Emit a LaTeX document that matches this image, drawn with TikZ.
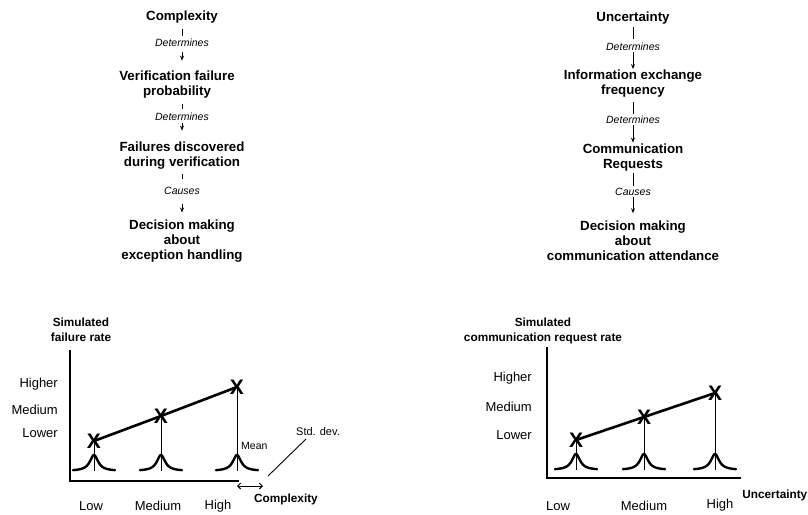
\documentclass[tikz,border=0pt]{standalone}
\usepackage{fontspec}
\setmainfont{Liberation Sans}
\usetikzlibrary{arrows.meta}
\begin{document}
\begin{tikzpicture}[x=1pt,y=-1pt,
  concept/.style={font=\fontsize{13.3}{15}\selectfont\bfseries, align=center, inner sep=1pt},
  verb/.style={font=\fontsize{10.5}{12}\selectfont\itshape, inner sep=1pt},
  link/.style={line width=0.9pt},
  flow/.style={-{Stealth[length=5pt,width=4pt]}, line width=0.9pt},
  level/.style={font=\fontsize{13}{15}\selectfont, inner sep=0pt},
  axtitle/.style={font=\fontsize{11.8}{14.5}\selectfont\bfseries, align=center, inner sep=0pt},
  note/.style={font=\fontsize{10.5}{12}\selectfont, inner sep=0pt},
  axis/.style={line width=1.2pt},
  stem/.style={line width=0.9pt},
  xmark/.style={font=\fontsize{21}{21}\selectfont\bfseries, inner sep=0pt},
  trend/.style={line width=2.6pt},
  bell/.style={line width=2.4pt, line cap=round},
  spread/.style={{Straight Barb[length=3pt,width=6pt]}-{Straight Barb[length=3pt,width=6pt]}, line width=0.9pt},
]
\useasboundingbox (0,0) rectangle (808,514);

% ---------- left causal chain ----------
\node[concept] (c1) at (182,17) {Complexity};
\node[verb]    (d1) at (182,43) {Determines};
\node[concept] (c2) at (177,84.5) {Verification failure\\probability};
\node[verb]    (d2) at (182,117) {Determines};
\node[concept] (c3) at (182,155.5) {Failures discovered\\during verification};
\node[verb]    (d3) at (182,191) {Causes};
\node[concept] (c4) at (182,241) {Decision making\\about\\exception handling};

\draw[link, shorten <=5pt, shorten >=2pt] (c1) -- (d1);
\draw[flow, shorten <=4pt, shorten >=9pt] (d1) -- (d1 |- c2.north);
\draw[link, shorten <=5pt, shorten >=3pt] (c2.south -| d2) -- (d2);
\draw[flow, shorten <=1pt, shorten >=10pt] (d2) -- (c3);
\draw[link, shorten <=4pt, shorten >=7pt] (c3) -- (d3);
\draw[flow, shorten <=8pt, shorten >=6pt] (d3) -- (c4);

% ---------- right causal chain ----------
\node[concept] (u1) at (633,18) {Uncertainty};
\node[verb]    (e1) at (633,47) {Determines};
\node[concept] (u2) at (633,84) {Information exchange\\frequency};
\node[verb]    (e2) at (633,120) {Determines};
\node[concept] (u3) at (633,157.5) {Communication\\Requests};
\node[verb]    (e3) at (633,192) {Causes};
\node[concept] (u4) at (633,241) {Decision making\\about\\communication attendance};

\draw[link, shorten <=1.7pt, shorten >=3pt] (u1) -- (e1);
\draw[flow] (e1) -- (u2);
\draw[link, shorten <=3.2pt, shorten >=1pt] (u2) -- (e2);
\draw[flow] (e2) -- (u3);
\draw[link, shorten <=0.7pt, shorten >=1pt] (u3) -- (e3);
\draw[flow, shorten >=6.7pt] (e3) -- (u4);

% ---------- left chart: failure rate vs complexity ----------
\draw[axis] (70,350) -- (70,481) -- (239,481);
\node[axtitle] at (81,330) {Simulated\\failure rate};
\node[level, anchor=east] at (58,384) {Higher};
\node[level, anchor=east] at (58,410) {Medium};
\node[level, anchor=east] at (58,433) {Lower};

\foreach \px/\py [count=\i] in {94/441, 161/416, 237/387} {
  \coordinate (lp\i) at (\px,\py);
  \draw[stem] (\px,\py) -- (\px,471);
  \draw[bell] plot[domain=-21:21, samples=80] ({\px+\x},{471-16/(1+(\x/5)^2)});
}
\draw[trend] (lp1) -- (lp2) -- (lp3);
\foreach \i in {1,2,3} \node[xmark] (lx\i) at (lp\i) {X};

\node[note, anchor=west] (mean) at (241,446) {Mean};
\node[note, font=\fontsize{11}{12}\selectfont, anchor=west] (sd) at (296,432) {Std. dev.};
\draw[stem] (268,476) -- (306,439);
\draw[spread] (237,486) -- (263,486);
\node[axtitle, anchor=west] at (254,499) {Complexity};
\node[level] at (91,506) {Low};
\node[level] at (158,506) {Medium};
\node[level] at (218,506) {High};

% ---------- right chart: request rate vs uncertainty ----------
\draw[axis] (547,347) -- (547,478) -- (741,478);
\node[axtitle] at (543,331) {Simulated\\communication request rate};
\node[level, anchor=east] at (532,378) {Higher};
\node[level, anchor=east] at (532,407) {Medium};
\node[level, anchor=east] at (532,435) {Lower};

\foreach \px/\py [count=\i] in {576/440, 644/417, 715/393} {
  \coordinate (rp\i) at (\px,\py);
  \draw[stem] (\px,\py) -- (\px,470);
  \draw[bell] plot[domain=-21:21, samples=80] ({\px+\x},{470-16/(1+(\x/5)^2)});
}
\draw[trend] (rp1) -- (rp2) -- (rp3);
\foreach \i in {1,2,3} \node[xmark] (rx\i) at (rp\i) {X};

\node[axtitle, anchor=east] at (807.5,495) {Uncertainty};
\node[level] at (558,506) {Low};
\node[level] at (644,506) {Medium};
\node[level] at (720,505) {High};
\end{tikzpicture}
\end{document}
